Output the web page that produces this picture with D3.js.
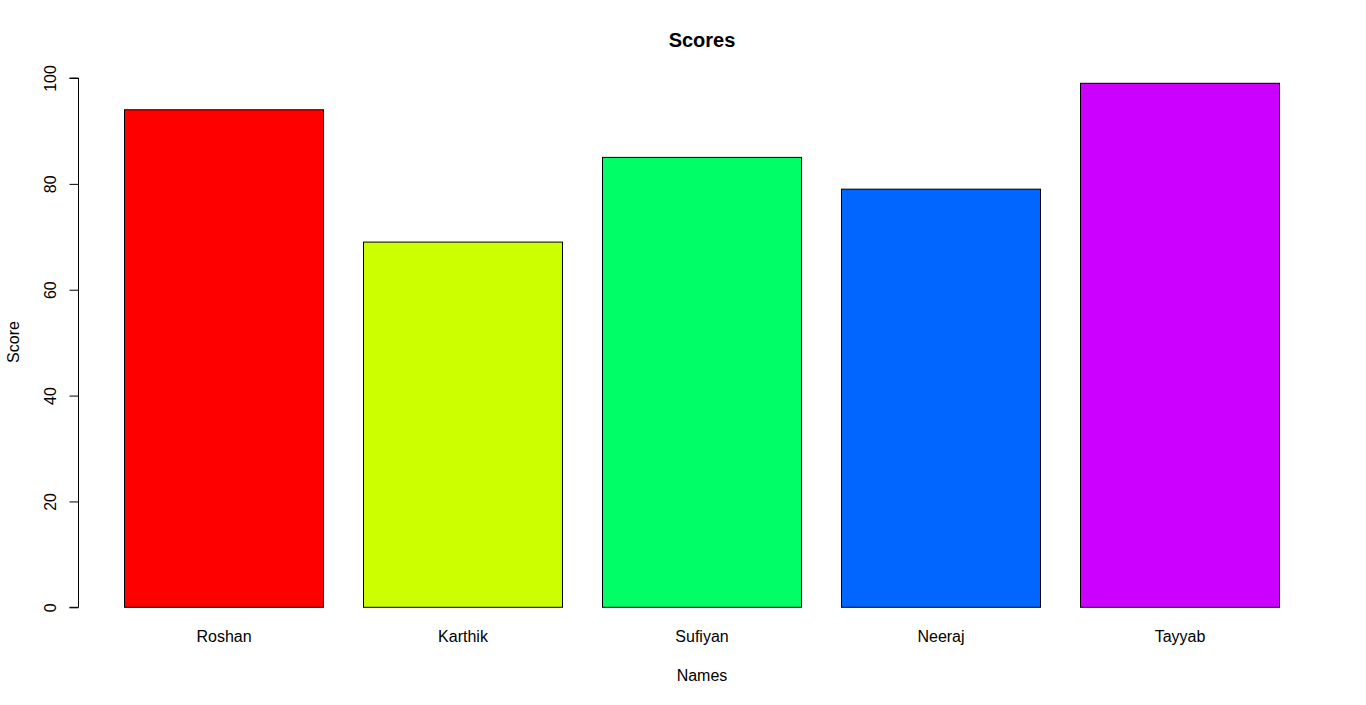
<!DOCTYPE html>
<html><head><meta charset="utf-8">
<script src="https://cdn.jsdelivr.net/npm/d3@7"></script>
<style>body{margin:0;background:#fff}svg{display:block}text{font-family:"Liberation Sans",Arial,sans-serif;fill:#000}</style>
</head><body>
<svg id="c" width="1366" height="705"></svg>
<script>
const names = ["Roshan","Karthik","Sufiyan","Neeraj","Tayyab"];
const scores = [94,69,85,79,99];
const colors = ["#FF0000","#CCFF00","#00FF66","#0066FF","#CC00FF"];
const yTicks = [0,20,40,60,80,100];

const svg = d3.select("#c");
const x = d3.scaleBand().domain(names).range([104,1299]).paddingInner(40/239).paddingOuter(20/239);
const y = d3.scaleLinear().domain([0,100]).range([607.3,78]);

svg.selectAll("rect.bar").data(names).enter().append("rect")
  .attr("x", d=>x(d)+0.5).attr("width", x.bandwidth())
  .attr("y", (d,i)=>y(scores[i])).attr("height",(d,i)=>y(0)-y(scores[i]))
  .attr("fill",(d,i)=>colors[i]).attr("stroke","#000").attr("stroke-width",1);

const yAxis = svg.append("g").attr("transform","translate(78.5,0)")
  .call(d3.axisLeft(y).tickValues(yTicks).tickSize(9).tickPadding(0).tickFormat(d3.format("d")));
yAxis.select(".domain").attr("d", `M-9,${y(0)}H0V${y(100)}H-9`).attr("stroke","#000");
yAxis.selectAll(".tick line").attr("stroke","#000");
yAxis.selectAll(".tick text").attr("transform","translate(-28,0) rotate(-90)")
  .attr("text-anchor","middle").attr("dy","0.35em").attr("x",0).attr("font-size","16px");
yAxis.attr("font-family",null).attr("font-size",null);

const xAxis = svg.append("g").attr("transform",`translate(0.5,${y(0)})`)
  .call(d3.axisBottom(x).tickSize(0).tickPadding(22));
xAxis.select(".domain").remove();
xAxis.selectAll(".tick text").attr("font-size","16px").attr("dy","0.35em").attr("y",29);
xAxis.attr("font-family",null).attr("font-size",null);

svg.append("text").attr("x",702).attr("y",47).attr("text-anchor","middle")
  .attr("font-size","20px").attr("font-weight","bold").text("Scores");
svg.append("text").attr("x",702).attr("y",675).attr("dy","0.35em").attr("text-anchor","middle")
  .attr("font-size","16px").text("Names");
svg.append("text").attr("transform","translate(13,342) rotate(-90)").attr("dy","0.35em").attr("text-anchor","middle")
  .attr("font-size","16px").text("Score");
</script>
</body></html>
